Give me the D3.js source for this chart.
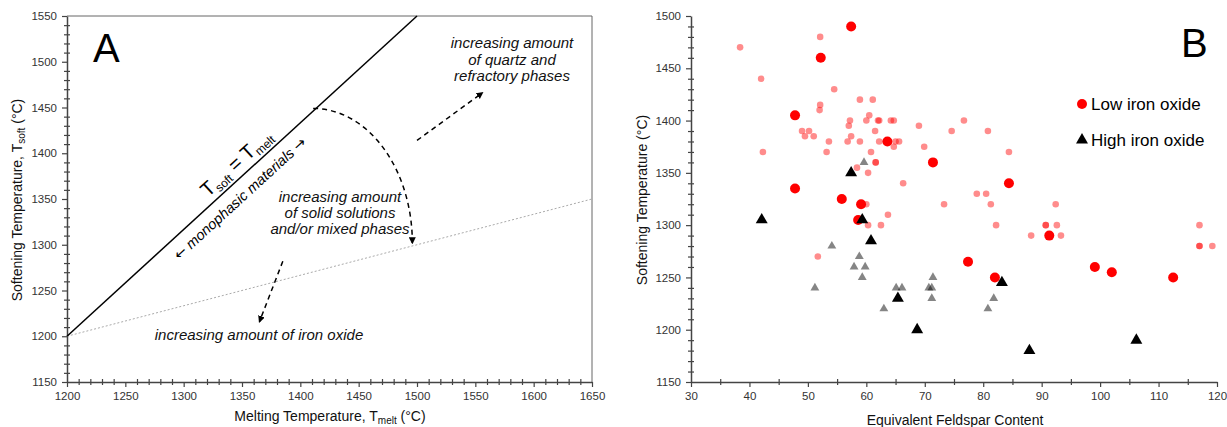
<!DOCTYPE html>
<html>
<head>
<meta charset="utf-8">
<script src="https://cdn.jsdelivr.net/npm/d3@7"></script>
<style>
  body { margin: 0; background: #fff; }
  svg { font-family: "Liberation Sans", Arial, sans-serif; }
  .tick text { font-size: 11.5px; fill: #333; }
  .domain { stroke: #444; stroke-width: 1.5; }
  .tick line { stroke: #444; stroke-width: 1.2; }
</style>
</head>
<body>
<div class="chart"></div>
<script>
// ---- panel A (schematic) ----
const aXTicks = [1200, 1250, 1300, 1350, 1400, 1450, 1500, 1550, 1600, 1650];
const aYTicks = [1150, 1200, 1250, 1300, 1350, 1400, 1450, 1500, 1550];
const meltLine = [[1200, 1200], [1500, 1550]];
const ironLine = [[1200, 1200], [1650, 1350]];
const solidArc = [[1411, 1449], [1496, 1302]];
const quartzArrow = [[1500, 1414], [1556, 1466]];
const ironArrow = [[1385, 1282], [1365, 1216]];

// ---- panel B (scatter) ----
const bXTicks = [30, 40, 50, 60, 70, 80, 90, 100, 110, 120];
const bYTicks = [1150, 1200, 1250, 1300, 1350, 1400, 1450, 1500];
const lowFeMain = [
  [57.4, 1490], [52.2, 1460], [47.8, 1405], [47.8, 1335], [63.6, 1380], [55.8, 1325],
  [59.1, 1320], [58.6, 1305], [71.4, 1360], [84.4, 1340], [91.3, 1290], [77.4, 1265],
  [82, 1250], [99.1, 1260], [102, 1255], [112.5, 1250]
];
const lowFeOther = [
  [38.4, 1470], [52.1, 1480], [42, 1440], [42.3, 1370], [54.5, 1430], [52.1, 1415],
  [52, 1410], [49, 1390], [50.2, 1390], [49.5, 1385], [51, 1385], [53.6, 1380],
  [53.2, 1370], [58.9, 1420], [61.1, 1420], [57.2, 1400], [57, 1395], [57.4, 1385],
  [56.8, 1380], [58.9, 1380], [60.5, 1405], [60, 1400], [62, 1400], [62.2, 1400],
  [61.5, 1390], [62.2, 1380], [60.8, 1370], [61.6, 1360], [61.6, 1360], [58.4, 1355],
  [60.3, 1350], [64.2, 1400], [64.7, 1400], [64.7, 1375], [65, 1380], [65.6, 1380],
  [66.3, 1340], [63.7, 1310], [69, 1395], [60, 1320], [74.6, 1390], [76.7, 1400],
  [80.8, 1390], [69.9, 1375], [84.4, 1370], [78.9, 1330], [80.5, 1330], [73.3, 1320],
  [81.3, 1320], [92.4, 1320], [82.2, 1300], [90.7, 1300], [90.7, 1300], [92.6, 1300],
  [88.2, 1290], [93.3, 1290], [117, 1300], [117, 1280], [117, 1280], [119.2, 1280],
  [51.7, 1270], [60.3, 1300], [62.5, 1300]
];
const highFeMain = [
  [42.1, 1305], [59.3, 1305], [57.4, 1350], [60.8, 1285], [65.4, 1230], [68.7, 1200],
  [83.2, 1245], [87.9, 1180], [106.2, 1190]
];
const highFeOther = [
  [59.6, 1360], [54.1, 1280], [58.8, 1270], [57.9, 1260], [59.8, 1260], [59.3, 1250],
  [51.2, 1240], [63, 1220], [65.1, 1240], [66.1, 1240], [70.7, 1240], [71.2, 1240],
  [71.4, 1250], [71.2, 1230], [80.8, 1220], [81.8, 1230]
];

const W = 1227, H = 427;
const svg = d3.select('.chart').append('svg').attr('width', W).attr('height', H);

svg.append('defs').append('marker')
    .attr('id', 'arrow')
    .attr('viewBox', '0 0 10 10')
    .attr('refX', 8).attr('refY', 5)
    .attr('markerWidth', 7).attr('markerHeight', 7)
    .attr('markerUnits', 'userSpaceOnUse')
    .attr('orient', 'auto')
  .append('path')
    .attr('d', 'M0,0 L10,5 L0,10 z')
    .attr('fill', '#000');

function minors(lo, hi, step, majors) {
  const out = [];
  for (let v = lo; v <= hi + 1e-9; v += step) {
    const r = Math.round(v * 100) / 100;
    if (!majors.includes(r)) out.push(r);
  }
  return out;
}

function drawAxes(g, x, y, xt, yt, xMinor, yMinor) {
  const [x0] = x.range();
  const [y0] = y.range();
  g.append('g').attr('transform', `translate(0,${y0})`)
    .call(d3.axisBottom(x).tickValues(xMinor).tickSize(3).tickFormat(''))
    .call(s => s.select('.domain').remove())
    .call(s => s.selectAll('.tick line').attr('y1', -3));
  g.append('g').attr('transform', `translate(${x0},0)`)
    .call(d3.axisLeft(y).tickValues(yMinor).tickSize(3).tickFormat(''))
    .call(s => s.select('.domain').remove())
    .call(s => s.selectAll('.tick line').attr('x1', 3));
  g.append('g').attr('transform', `translate(0,${y0})`)
    .call(d3.axisBottom(x).tickValues(xt).tickFormat(d3.format('d')).tickSize(5).tickSizeOuter(0).tickPadding(5));
  g.append('g').attr('transform', `translate(${x0},0)`)
    .call(d3.axisLeft(y).tickValues(yt).tickFormat(d3.format('d')).tickSize(5).tickSizeOuter(0).tickPadding(5));
}

// ================= Panel A =================
const xA = d3.scaleLinear().domain([1200, 1650]).range([67, 592]);
const yA = d3.scaleLinear().domain([1150, 1550]).range([382, 16]);
const gA = svg.append('g');

gA.append('path')
  .attr('d', `M${xA(1200)},${yA(1550)} H${xA(1650)} V${yA(1150)}`)
  .attr('fill', 'none').attr('stroke', '#666').attr('stroke-width', 1);

drawAxes(gA, xA, yA, aXTicks, aYTicks,
  minors(1200, 1650, 10, aXTicks), minors(1150, 1550, 10, aYTicks));

const lineA = d3.line().x(d => xA(d[0])).y(d => yA(d[1]));
gA.append('path').attr('d', lineA(ironLine))
  .attr('fill', 'none').attr('stroke', '#aaa').attr('stroke-width', 1).attr('stroke-dasharray', '2,2');
gA.append('path').attr('d', lineA(meltLine))
  .attr('fill', 'none').attr('stroke', '#000').attr('stroke-width', 1.5);

[quartzArrow, ironArrow].forEach(a => {
  gA.append('path').attr('d', lineA(a))
    .attr('fill', 'none').attr('stroke', '#000').attr('stroke-width', 1.5)
    .attr('stroke-dasharray', '5,4').attr('marker-end', 'url(#arrow)');
});

{
  const sx = xA(solidArc[0][0]), sy = yA(solidArc[0][1]);
  const ex = xA(solidArc[1][0]), ey = yA(solidArc[1][1]);
  gA.append('path')
    .attr('d', `M${sx},${sy} A${ex - sx},${ey - sy} 0 0 1 ${ex},${ey}`)
    .attr('fill', 'none').attr('stroke', '#000').attr('stroke-width', 1.5)
    .attr('stroke-dasharray', '5,4').attr('marker-end', 'url(#arrow)');
}

const ang = Math.atan2(yA(meltLine[1][1]) - yA(meltLine[0][1]), xA(meltLine[1][0]) - xA(meltLine[0][0])) * 180 / Math.PI;

function onLine(t) {
  const x = meltLine[0][0] + t * (meltLine[1][0] - meltLine[0][0]);
  const y = meltLine[0][1] + t * (meltLine[1][1] - meltLine[0][1]);
  return [xA(x), yA(y)];
}

{
  const [px, py] = onLine(0.51);
  const t = gA.append('text')
    .attr('transform', `translate(${px},${py}) rotate(${ang})`)
    .attr('text-anchor', 'middle').attr('y', -7)
    .attr('font-size', 20).attr('fill', '#000');
  t.append('tspan').text('T');
  t.append('tspan').text('soft').attr('font-size', 12).attr('dy', 4);
  t.append('tspan').text(' = T').attr('dy', -4);
  t.append('tspan').text('melt').attr('font-size', 12).attr('dy', 4);
}
{
  const [px, py] = onLine(0.465);
  const t = gA.append('text')
    .attr('transform', `translate(${px},${py}) rotate(${ang})`)
    .attr('text-anchor', 'middle').attr('y', 20)
    .attr('font-size', 14.5).attr('font-style', 'italic').attr('fill', '#000');
  t.append('tspan').text('\u2190').attr('font-family', 'DejaVu Sans').attr('font-style', 'normal');
  t.append('tspan').text(' monophasic materials ');
  t.append('tspan').text('\u2192').attr('font-family', 'DejaVu Sans').attr('font-style', 'normal');
}

function italicBlock(lines, cx, cy, lh) {
  const t = gA.append('text').attr('text-anchor', 'middle')
    .attr('font-size', 15).attr('font-style', 'italic').attr('fill', '#111');
  lines.forEach((l, i) => t.append('tspan').attr('x', cx).attr('y', cy + i * lh).text(l));
}
italicBlock(['increasing amount', 'of quartz and', 'refractory phases'], 512, 48, 16.5);
italicBlock(['increasing amount', 'of solid solutions', 'and/or mixed phases'], 340, 202, 16);
italicBlock(['increasing amount of iron oxide'], 259, 340, 16);

gA.append('text').attr('x', 93).attr('y', 62).attr('font-size', 40).text('A');

{
  const t = gA.append('text').attr('text-anchor', 'middle').attr('font-size', 14).attr('fill', '#111')
    .attr('transform', 'translate(22,200) rotate(-90)');
  t.append('tspan').text('Softening Temperature, T');
  t.append('tspan').text('soft').attr('font-size', 10).attr('dy', 3);
  t.append('tspan').text(' (\u00B0C)').attr('dy', -3);
}
{
  const t = gA.append('text').attr('text-anchor', 'middle').attr('font-size', 14).attr('fill', '#111')
    .attr('x', 330).attr('y', 421);
  t.append('tspan').text('Melting Temperature, T');
  t.append('tspan').text('melt').attr('font-size', 10).attr('dy', 3);
  t.append('tspan').text(' (\u00B0C)').attr('dy', -3);
}

// ================= Panel B =================
const xB = d3.scaleLinear().domain([30, 120]).range([691, 1217]);
const yB = d3.scaleLinear().domain([1150, 1500]).range([382, 16]);
const gB = svg.append('g');

drawAxes(gB, xB, yB, bXTicks, bYTicks,
  minors(30, 120, 5, bXTicks), minors(1150, 1500, 10, bYTicks));

const tri = (size) => d3.symbol().type(d3.symbolTriangle).size(size)();

gB.append('g').selectAll('circle').data(lowFeOther).join('circle')
  .attr('cx', d => xB(d[0])).attr('cy', d => yB(d[1])).attr('r', 3.3)
  .attr('fill', 'rgba(255,0,0,0.45)');
gB.append('g').selectAll('path').data(highFeOther).join('path')
  .attr('d', tri(34)).attr('transform', d => `translate(${xB(d[0])},${yB(d[1])})`)
  .attr('fill', 'rgba(0,0,0,0.48)');
gB.append('g').selectAll('circle').data(lowFeMain).join('circle')
  .attr('cx', d => xB(d[0])).attr('cy', d => yB(d[1])).attr('r', 5)
  .attr('fill', '#ff0000');
gB.append('g').selectAll('path').data(highFeMain).join('path')
  .attr('d', tri(62)).attr('transform', d => `translate(${xB(d[0])},${yB(d[1])})`)
  .attr('fill', '#000');

gB.append('text').attr('x', 1181).attr('y', 57).attr('font-size', 40).text('B');

gB.append('circle').attr('cx', 1082).attr('cy', 104).attr('r', 5).attr('fill', '#ff0000');
gB.append('text').attr('x', 1091).attr('y', 110).attr('font-size', 17).text('Low iron oxide');
gB.append('path').attr('d', tri(62)).attr('transform', 'translate(1082,140)').attr('fill', '#000');
gB.append('text').attr('x', 1091).attr('y', 146).attr('font-size', 17).text('High iron oxide');

gB.append('text').attr('text-anchor', 'middle').attr('font-size', 14).attr('fill', '#111')
  .attr('transform', 'translate(647,200) rotate(-90)').text('Softening Temperature (\u00B0C)');
gB.append('text').attr('text-anchor', 'middle').attr('font-size', 14).attr('fill', '#111')
  .attr('x', 955).attr('y', 425).text('Equivalent Feldspar Content');
</script>
</body>
</html>
